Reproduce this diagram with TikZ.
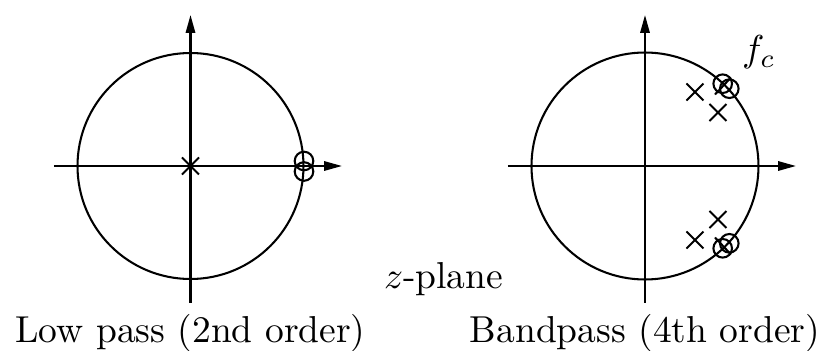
\documentclass[tikz,border=0pt]{standalone}
\usetikzlibrary{arrows.meta}
\begin{document}
\begin{tikzpicture}[x=0.2667pt,y=-0.2667pt, line width=0.55pt,
  axis/.style={-{Triangle[length=4.8pt,width=2.5pt]}},
  pole/.style={line width=0.5pt},
  zero/.style={line width=0.55pt},
  lbl/.style={inner sep=0pt},
  pcross/.pic={\draw[pole] (-8.5,-8.5) -- (8.5,8.5) (-8.5,8.5) -- (8.5,-8.5);}]
\useasboundingbox (0,0) rectangle (821,351);
% ---------- left: low pass ----------
\coordinate (L) at (190.5,166);
\draw (L) circle[radius=113];
\coordinate (Lw) at (54,166);
\coordinate (Le) at (342,166);
\coordinate (Ls) at (190.5,303);
\coordinate (Ln) at (190.5,15);
\draw[axis] (Lw) -- (Le);
\draw[axis] (Ls) -- (Ln);
\pic at (L) {pcross};
\draw[zero] (304,161) circle[radius=9.3];
\draw[zero] (304,171.5) circle[radius=9.3];
% ---------- right: bandpass ----------
\coordinate (R) at (645,166);
\draw (R) circle[radius=113.5];
\coordinate (Rw) at (508,166);
\coordinate (Re) at (796,166);
\coordinate (Rs) at (645,303);
\coordinate (Rn) at (645,15);
\draw[axis] (Rw) -- (Re);
\draw[axis] (Rs) -- (Rn);
\pic at (695,92) {pcross};
\pic at (718,112.5) {pcross};
\pic at (695,240) {pcross};
\pic at (718,219.5) {pcross};
\draw[zero] (722.7,83.7) circle[radius=9.3];
\draw[zero] (729.3,88.7) circle[radius=9.3];
\draw[zero] (715,94.5) -- (731,77.5);
\draw[zero] (722.7,248.3) circle[radius=9.3];
\draw[zero] (729.3,243.3) circle[radius=9.3];
\draw[zero] (715,237.5) -- (731,254.5);
% ---------- labels ----------
\node[lbl, anchor=base] (lp) at (190.5,343) {Low pass (2nd order)};
\node[lbl, anchor=base] (bp) at (645,343) {Bandpass (4th order)};
\node[lbl, anchor=base west] (zp) at (383,288) {$z$-plane};
\node[lbl, anchor=base west] (fc) at (741,61.5) {$f_c$};
\end{tikzpicture}
\end{document}
